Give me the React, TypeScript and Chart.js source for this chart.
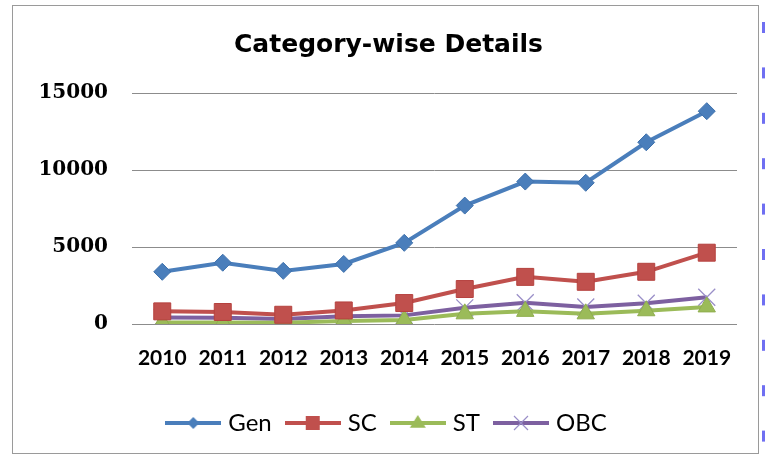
import React, { useEffect, useRef } from "react";
import { Chart, registerables } from "chart.js";

Chart.register(...registerables);

const titleText = "Category-wise Details";
const years = ["2010", "2011", "2012", "2013", "2014", "2015", "2016", "2017", "2018", "2019"];
const genValues = [3390, 3980, 3450, 3900, 5270, 7690, 9250, 9170, 11800, 13820];
const scValues = [820, 780, 600, 880, 1360, 2270, 3060, 2740, 3390, 4630];
const stValues = [100, 100, 80, 200, 260, 660, 820, 660, 860, 1110];
const obcValues = [430, 400, 320, 500, 560, 1050, 1380, 1100, 1350, 1740];
const yTickValues = [0, 5000, 10000, 15000];

const seriesNames = ["Gen", "SC", "ST", "OBC"];
const lineColors = ["#4a7ebb", "#c0504d", "#9bbb59", "#7d60a0"];

function drawMarker(ctx: CanvasRenderingContext2D, style: string, x: number, y: number, r: number, fill: string, stroke: string) {
  ctx.beginPath();
  if (style === "rectRot") {
    ctx.moveTo(x, y - r);
    ctx.lineTo(x + r, y);
    ctx.lineTo(x, y + r);
    ctx.lineTo(x - r, y);
    ctx.closePath();
    ctx.fillStyle = fill;
    ctx.fill();
  } else if (style === "rect") {
    ctx.rect(x - r, y - r, 2 * r, 2 * r);
    ctx.fillStyle = fill;
    ctx.fill();
  } else if (style === "triangle") {
    ctx.moveTo(x, y - r);
    ctx.lineTo(x + r, y + r * 0.6);
    ctx.lineTo(x - r, y + r * 0.6);
    ctx.closePath();
    ctx.fillStyle = fill;
    ctx.fill();
  } else {
    ctx.moveTo(x - r, y - r);
    ctx.lineTo(x + r, y + r);
    ctx.moveTo(x + r, y - r);
    ctx.lineTo(x - r, y + r);
    ctx.strokeStyle = stroke;
    ctx.lineWidth = 1.2;
    ctx.stroke();
  }
}

function legendImage(color: string, style: string, fill: string, stroke: string, r: number) {
  const c = document.createElement("canvas");
  c.width = 56;
  c.height = 22;
  const ctx = c.getContext("2d")!;
  ctx.strokeStyle = color;
  ctx.lineWidth = 4;
  ctx.beginPath();
  ctx.moveTo(0, 11);
  ctx.lineTo(56, 11);
  ctx.stroke();
  drawMarker(ctx, style, 28, 11, r, fill, stroke);
  return c;
}

const decorPlugin = {
  id: "decor",
  beforeDraw(chart: any) {
    const ctx = chart.ctx;
    ctx.save();
    ctx.fillStyle = "#ffffff";
    ctx.fillRect(0, 0, chart.width, chart.height);
    ctx.strokeStyle = "#9a9a9a";
    ctx.lineWidth = 1;
    ctx.strokeRect(12.5, 5.5, 746, 448);
    ctx.fillStyle = "#6f6ff2";
    for (let y = 22; y < chart.height; y += 45.4) {
      ctx.fillRect(762, y, 4, 11);
    }
    ctx.restore();
  },
};

export default function App() {
  const ref = useRef<HTMLCanvasElement>(null);
  useEffect(() => {
    const canvas = ref.current!;
    const legendImgs = [
      legendImage(lineColors[0], "rectRot", "#4a7ebb", "#4a7ebb", 6),
      legendImage(lineColors[1], "rect", "#c0504d", "#c0504d", 7),
      legendImage(lineColors[2], "triangle", "#9bbb59", "#9bbb59", 8),
      legendImage(lineColors[3], "cross", "#9a8fc8", "#9a8fc8", 7),
    ];
    const chart = new Chart(canvas, {
      type: "line",
      data: {
        labels: years,
        datasets: [
          {
            label: seriesNames[0],
            data: genValues,
            borderColor: lineColors[0],
            backgroundColor: "#4a7ebb",
            borderWidth: 4,
            pointStyle: "rectRot",
            pointRadius: 8.5,
            pointBackgroundColor: "#4a7ebb",
            pointBorderColor: "#3f72ad",
            pointBorderWidth: 1,
          },
          {
            label: seriesNames[1],
            data: scValues,
            borderColor: lineColors[1],
            backgroundColor: "#c0504d",
            borderWidth: 4,
            pointStyle: "rect",
            pointRadius: 12,
            pointBackgroundColor: "#c0504d",
            pointBorderColor: "#b5413e",
            pointBorderWidth: 1,
          },
          {
            label: seriesNames[2],
            data: stValues,
            borderColor: lineColors[2],
            backgroundColor: "#9bbb59",
            borderWidth: 4,
            pointStyle: "triangle",
            pointRadius: 10,
            pointBackgroundColor: "#9bbb59",
            pointBorderColor: "#8fae4e",
            pointBorderWidth: 1,
          },
          {
            label: seriesNames[3],
            data: obcValues,
            borderColor: lineColors[3],
            backgroundColor: "#9a8fc8",
            borderWidth: 4,
            pointStyle: "crossRot",
            pointRadius: 12,
            pointBackgroundColor: "#9a8fc8",
            pointBorderColor: "#9a8fc8",
            pointBorderWidth: 1.3,
          },
        ],
      },
      options: {
        responsive: false,
        animation: false,
        devicePixelRatio: 1,
        layout: { padding: { top: 0, right: 28, bottom: 10, left: 40 } },
        elements: { line: { tension: 0 } },
        scales: {
          x: {
            offset: true,
            grid: { display: false, drawTicks: false },
            border: { display: false },
            ticks: {
              autoSkip: false,
              maxRotation: 0,
              padding: 22,
              color: "#000000",
              font: { family: "Lato", weight: "bold", size: 21 },
            },
            afterFit: (scale: any) => {
              scale.height = 69;
            },
          },
          y: {
            min: 0,
            max: 15000,
            afterBuildTicks: (scale: any) => {
              scale.ticks = yTickValues.map((v) => ({ value: v }));
            },
            grid: { color: "#8c8c8c", lineWidth: 1, drawTicks: false },
            border: { display: false },
            ticks: {
              padding: 24,
              color: "#000000",
              font: { family: "'DejaVu Serif'", weight: "bold", size: 20 },
              callback: (v: any) => String(v),
            },
            afterFit: (scale: any) => {
              scale.width = 92;
            },
          },
        },
        plugins: {
          title: {
            display: true,
            text: titleText,
            color: "#000000",
            font: { family: "'DejaVu Sans'", weight: "bold", size: 25 },
            padding: { top: 30, bottom: 33 },
          },
          legend: {
            position: "bottom",
            labels: {
              usePointStyle: true,
              pointStyleWidth: 46,
              padding: 18,
              color: "#000000",
              font: { family: "Lato", size: 24 },
              generateLabels: (ch: any) =>
                ch.data.datasets.map((ds: any, i: number) => ({
                  text: ds.label,
                  pointStyle: legendImgs[i],
                  fillStyle: ds.borderColor,
                  strokeStyle: ds.borderColor,
                  lineWidth: 0,
                  hidden: false,
                  datasetIndex: i,
                  fontColor: "#000000",
                })),
            },
          },
          tooltip: { enabled: false },
        },
      },
      plugins: [decorPlugin],
    });
    return () => chart.destroy();
  }, []);
  return (
    <div style={{ position: "fixed", left: 0, top: 0, width: 765, height: 455 }}>
      <canvas ref={ref} width={765} height={455} style={{ display: "block" }} />
    </div>
  );
}
